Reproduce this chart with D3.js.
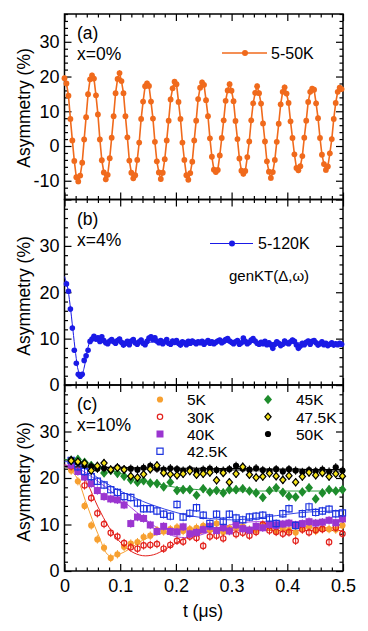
<!DOCTYPE html>
<html><head><meta charset="utf-8">
<script src="https://cdn.jsdelivr.net/npm/d3@7"></script>
<style>
body{margin:0;background:#fff}
text{font-family:"Liberation Sans",Arial,Helvetica,sans-serif;fill:#000}
</style>
</head><body>
<svg id="chart" width="368" height="631"></svg>
<script>
// ---------- DATA ----------
// panel (a) x=0%, 5-50K
const tA = [
0,.0035,.0071,.0106,.0141,.0176,.0212,.0247,.0282,.0318,.0353,.0388,.0423,.0459,
.0494,.0529,.0565,.0600,.0635,.0670,.0706,.0741,.0776,.0812,.0847,.0882,.0917,.0953,
.0988,.1023,.1059,.1094,.1129,.1164,.1200,.1235,.1270,.1306,.1341,.1376,.1411,.1447,
.1482,.1517,.1553,.1588,.1623,.1658,.1694,.1729,.1764,.1800,.1835,.1870,.1905,.1941,
.1976,.2011,.2047,.2082,.2117,.2152,.2188,.2223,.2258,.2294,.2329,.2364,.2399,.2435,
.2470,.2505,.2541,.2576,.2611,.2646,.2682,.2717,.2752,.2788,.2823,.2858,.2893,.2929,
.2964,.2999,.3035,.3070,.3105,.3140,.3176,.3211,.3246,.3282,.3317,.3352,.3387,.3423,
.3458,.3493,.3529,.3564,.3599,.3634,.3670,.3705,.3740,.3776,.3811,.3846,.3881,.3917,
.3952,.3987,.4023,.4058,.4093,.4128,.4164,.4199,.4234,.4270,.4305,.4340,.4375,.4411,
.4446,.4481,.4517,.4552,.4587,.4622,.4658,.4693,.4728,.4764,.4799,.4834,.4869,.4905,
.4940,.4975];
const asymA = [
19.5,18.0,14.5,7.8,1.6,-4.3,-9.0,-10.2,-8.5,-4.8,1.9,8.3,14.9,19.2,
20.3,19.4,14.6,9.1,1.9,-4.1,-7.6,-9.6,-8.3,-3.5,2.4,8.6,15.2,19.3,
21.0,18.7,15.2,8.6,2.5,-4.2,-7.7,-9.3,-8.4,-4.0,1.0,7.8,12.8,17.2,
18.0,17.3,12.8,7.9,1.2,-4.4,-7.6,-9.5,-7.7,-3.8,1.6,7.3,13.4,16.6,
18.5,17.8,12.7,7.8,1.0,-4.0,-8.4,-9.7,-7.8,-4.5,1.6,7.3,13.5,16.8,
18.3,17.6,13.2,8.6,2.2,-3.1,-6.8,-7.5,-6.9,-2.7,2.3,7.4,13.0,16.0,
17.8,15.9,12.9,7.2,2.0,-3.6,-7.1,-8.0,-7.2,-3.2,1.3,7.4,12.3,15.3,
17.2,15.2,12.2,6.5,1.3,-4.4,-7.4,-9.2,-7.5,-4.0,1.2,6.4,12.0,15.6,
16.9,15.1,12.4,7.1,2.3,-2.4,-6.3,-7.0,-5.8,-2.9,2.4,7.3,12.7,15.6,
16.5,16.2,12.3,8.0,2.3,-2.5,-5.2,-6.9,-5.9,-2.1,2.0,7.8,12.4,15.6,
16.8,16.4];
const errA = 0.8;

// panel (b) x=4%, 5-120K (same time bins as panel a)
const tB = tA;
const asymB = [
23.4,21.8,20.2,16.4,12.3,7.5,4.7,2.3,1.9,2.3,5.3,6.3,7.5,9.4,9.9,10.5,9.9,10.2,9.4,10.4,
9.6,9.1,8.9,9.5,9.8,9.3,9.0,9.6,9.9,9.2,8.6,9.0,9.4,8.7,9.5,9.8,9.1,8.8,9.3,9.7,
9.0,8.7,9.4,10.1,10.4,9.8,10.2,9.5,9.1,9.6,8.9,9.3,9.8,9.0,8.8,9.5,9.2,9.6,9.0,8.6,
9.3,9.1,8.7,9.4,9.0,9.5,9.2,8.9,9.3,9.1,9.4,8.8,9.2,9.6,9.0,9.3,8.9,9.2,9.5,9.7,
9.1,9.4,9.8,10.0,9.5,9.2,8.9,9.3,9.6,8.8,9.1,10.1,9.4,8.9,9.2,9.7,10.0,9.5,9.0,8.8,
9.2,8.9,9.4,8.7,9.1,8.6,7.9,8.8,9.3,9.0,8.5,8.8,9.5,9.1,8.9,9.3,9.7,9.4,8.6,7.9,
8.4,9.0,8.7,9.2,9.5,8.8,9.4,9.6,9.1,8.6,8.9,9.3,8.7,9.0,8.5,8.8,9.1,8.6,8.9,8.7,9.0,8.8];
const errB = 0.5;
// genKT fit, panel (b)
const tFitB   = [0,.005,.01,.015,.02,.025,.03,.035,.04,.045,.05,.055,.06,.07,.1,.2,.3,.4,.5];
const fitB    = [23.4,21.4,17.3,12.0,6.8,3.0,1.9,3.6,6.8,9.2,10.0,9.9,9.6,9.3,9.3,9.2,9.2,9.1,9.1];

// panel (c) x=10%
const tC = [.012,.024,.036,.048,.059,.071,.083,.095,.107,.119,.131,.142,.154,.166,.178,.190,.202,.213,.225,.237,.249,
            .261,.273,.285,.296,.308,.320,.332,.344,.356,.368,.380,.392,.403,.415,.427,.439,.451,.463,.475,.487,.499];
const asym5K = [21.6,19.3,14.0,9.8,6.8,5.0,2.8,3.6,5.2,5.9,6.2,7.3,7.6,8.8,8.5,9.0,9.4,8.6,9.0,9.3,9.7,
                8.8,10.2,8.4,9.2,9.4,9.6,8.9,8.8,9.8,9.3,8.6,9.0,8.7,8.3,9.1,9.5,8.6,9.2,9.0,8.9,9.8];
const asym30K = [22.5,21.6,18.4,15.7,12.4,10.1,8.2,7.4,6.0,5.1,4.8,5.5,5.6,5.8,4.8,5.6,6.5,6.3,7.4,7.1,5.4,
                 7.4,7.6,7.0,8.6,7.9,8.2,7.6,8.4,10.0,8.7,8.4,8.0,8.3,6.5,8.9,8.3,8.8,9.0,6.2,9.3,8.0];
const asym40K = [22.8,21.4,20.2,18.8,17.3,16.0,15.5,15.3,14.2,10.2,11.6,11.3,9.9,8.5,9.6,8.5,8.4,9.5,8.0,8.3,8.9,
                 9.6,8.7,9.3,8.6,9.9,9.1,8.8,9.6,9.3,10.0,9.8,10.1,10.3,9.9,10.2,10.6,10.3,10.5,10.9,10.4,11.2];
const asym42K = [23.8,22.4,21.4,20.3,19.3,18.5,17.5,16.9,16.0,15.8,14.6,13.4,13.4,12.9,12.2,11.8,14.3,11.6,12.4,13.6,12.0,
                 10.2,12.2,10.7,12.2,11.4,11.0,11.6,11.8,12.0,11.4,10.2,12.3,13.4,9.8,12.3,13.8,12.6,12.9,13.3,12.3,12.5];
const asym45K = [23.8,24.0,23.4,22.7,22.2,21.1,21.6,21.0,20.4,19.6,19.1,19.4,18.9,18.8,18.1,19.1,17.3,17.5,17.5,16.3,17.7,
                 17.0,17.3,16.8,17.5,17.5,17.7,17.2,16.8,15.8,17.3,17.9,16.9,16.1,15.9,17.0,17.9,15.5,16.8,17.5,17.2,17.5];
const asym47K = [23.7,23.5,23.2,21.6,22.6,23.2,21.8,22.2,21.8,20.4,20.1,20.8,21.9,22.7,21.1,20.8,20.6,20.9,21.5,20.7,20.9,
                 21.2,19.5,21.1,19.1,20.9,22.4,20.7,20.1,20.3,21.0,20.4,19.6,20.5,19.1,20.3,21.2,20.6,21.1,20.3,20.9,20.4];
const asym50K = [23.9,23.3,22.8,22.5,22.0,22.1,21.7,22.3,21.9,22.0,21.8,22.2,22.6,22.0,21.8,22.1,21.9,21.6,21.9,21.5,21.8,
                 22.0,21.7,21.6,21.9,22.6,22.0,21.8,22.1,21.7,21.5,21.9,21.4,21.9,21.6,21.3,21.7,21.5,21.8,21.4,22.3,21.6];
const errC = 0.9;
// fits, panel (c)
const tFit = [0,.02,.04,.06,.08,.10,.12,.14,.16,.18,.20,.22,.24,.26,.28,.30,.32,.34,.36,.38,.40,.42,.44,.46,.48,.50];
const fit5K  = [22.6,20.5,14.3,8.0,3.3,3.7,5.0,6.6,7.6,8.3,8.8,9.1,9.2,9.3,9.3,9.3,9.3,9.3,9.3,9.3,9.3,9.3,9.3,9.3,9.3,9.3];
const fit30K = [22.8,22.0,19.0,13.8,9.4,6.2,4.2,3.3,3.5,4.6,6.0,7.2,8.0,8.5,8.7,8.8,8.8,8.8,8.8,8.7,8.7,8.7,8.7,8.7,8.7,8.7];
const fit40K = [22.8,22.3,21.0,19.3,17.5,15.6,13.6,11.6,9.8,8.3,7.4,7.2,7.6,8.4,9.3,10.0,10.4,10.6,10.6,10.6,10.6,10.6,10.6,10.6,10.6,10.6];
const fit42K = [23.6,23.0,21.8,20.0,18.5,17.2,16.1,15.0,14.1,13.3,12.6,12.0,11.6,11.3,11.1,11.0,11.1,11.3,11.6,11.9,12.2,12.5,12.7,12.8,12.9,12.9];
const fit45K = [24.0,23.8,23.3,22.6,21.8,21.0,20.2,19.5,18.9,18.4,18.0,17.7,17.5,17.4,17.3,17.2,17.2,17.2,17.2,17.2,17.2,17.2,17.2,17.2,17.2,17.2];
const fit47K = [22.3,22.3,22.2,22.2,22.1,22.1,22.0,22.0,21.9,21.9,21.9,21.8,21.8,21.8,21.7,21.7,21.7,21.6,21.6,21.6,21.6,21.5,21.5,21.5,21.5,21.4];
const fit50K = [22.5,22.4,22.4,22.3,22.3,22.3,22.2,22.2,22.2,22.1,22.1,22.1,22.1,22.0,22.0,22.0,22.0,21.9,21.9,21.9,21.9,21.9,21.8,21.8,21.8,21.8];

// ticks / labels
const xTicks = [0,0.1,0.2,0.3,0.4,0.5];
const xTickLabels = ["0","0.1","0.2","0.3","0.4","0.5"];
const yTicksA = [-10,0,10,20,30];
const yLabelsA = ["-10","0","10","20","30"];
const yTicksB = [0,10,20,30,40];
const yLabelsB = ["0","10","20","30",""];
const yTicksC = [0,10,20,30,40];
const yLabelsC = ["0","10","20","30",""];

// ---------- DRAW ----------
const svg = d3.select("#chart");
const L = 64.5, R = 343;
const x = d3.scaleLinear().domain([0,0.5]).range([L,R]);
const xMinor = d3.range(0,0.5001,0.02).filter(v => Math.abs(v*10 - Math.round(v*10)) > 1e-6);

const panels = [
  {top:14, bottom:199.5, y:d3.scaleLinear().domain([-15.4,38]).range([199.5,14]),
   major:yTicksA, labels:yLabelsA, minor:d3.range(-14,38.1,2).filter(v=>v%10!==0),
   tag:"(a)", comp:"x=0%", ylabY:108},
  {top:199.5, bottom:385, y:d3.scaleLinear().domain([0,40]).range([385,199.5]),
   major:yTicksB, labels:yLabelsB, minor:d3.range(2,40,2).filter(v=>v%10!==0),
   tag:"(b)", comp:"x=4%", ylabY:296},
  {top:385, bottom:571, y:d3.scaleLinear().domain([0,40]).range([571,385]),
   major:yTicksC, labels:yLabelsC, minor:d3.range(2,40,2).filter(v=>v%10!==0),
   tag:"(c)", comp:"x=10%", ylabY:482}
];

const MAJ = 7, MIN = 3.5;
function styleAxis(g){ g.select(".domain").remove(); g.selectAll(".tick line").attr("stroke","#000").attr("stroke-width",1.2); }
function styleText(a){ a.selectAll("text").attr("font-size",18).attr("font-family",'"Liberation Sans",Arial,sans-serif').attr("fill","#000"); }

panels.forEach((p,i) => {
  const g = svg.append("g");
  g.append("g").attr("transform",`translate(${L},0)`)
    .call(d3.axisLeft(p.y).tickValues(p.major).tickSize(-MAJ).tickSizeOuter(0).tickPadding(5)
      .tickFormat((d,j)=>p.labels[j]))
    .call(styleAxis).call(styleText);
  g.append("g").attr("transform",`translate(${L},0)`)
    .call(d3.axisLeft(p.y).tickValues(p.minor).tickSize(-MIN).tickSizeOuter(0).tickFormat(""))
    .call(styleAxis);
  g.append("g").attr("transform",`translate(${R},0)`)
    .call(d3.axisRight(p.y).tickValues(p.major).tickSize(-MAJ).tickSizeOuter(0).tickFormat(""))
    .call(styleAxis);
  g.append("g").attr("transform",`translate(${R},0)`)
    .call(d3.axisRight(p.y).tickValues(p.minor).tickSize(-MIN).tickSizeOuter(0).tickFormat(""))
    .call(styleAxis);
  g.append("g").attr("transform",`translate(0,${p.top})`)
    .call(d3.axisTop(x).tickValues(xTicks).tickSize(-MAJ).tickSizeOuter(0).tickFormat(""))
    .call(styleAxis);
  g.append("g").attr("transform",`translate(0,${p.top})`)
    .call(d3.axisTop(x).tickValues(xMinor).tickSize(-MIN).tickSizeOuter(0).tickFormat(""))
    .call(styleAxis);
  g.append("g").attr("transform",`translate(0,${p.bottom})`)
    .call(d3.axisBottom(x).tickValues(xTicks).tickSize(-MAJ).tickSizeOuter(0).tickPadding(8)
      .tickFormat((d,j)=> i===2 ? xTickLabels[j] : ""))
    .call(styleAxis).call(styleText);
  g.append("g").attr("transform",`translate(0,${p.bottom})`)
    .call(d3.axisBottom(x).tickValues(xMinor).tickSize(-MIN).tickSizeOuter(0).tickFormat(""))
    .call(styleAxis);
  g.append("rect").attr("x",L).attr("y",p.top).attr("width",R-L).attr("height",p.bottom-p.top)
    .attr("fill","none").attr("stroke","#000").attr("stroke-width",1.5);
  svg.append("text").attr("transform",`translate(30,${p.ylabY}) rotate(-90)`)
    .attr("text-anchor","middle").attr("font-size",17.5).text("Asymmetry (%)");
  svg.append("text").attr("x",77).attr("y",p.top+25).attr("font-size",17.5).text(p.tag);
  svg.append("text").attr("x",77).attr("y",p.top+46).attr("font-size",17.5).text(p.comp);
});

svg.append("text").attr("x",203).attr("y",617).attr("text-anchor","middle").attr("font-size",17.5).text("t (μs)");

// ---- panel (a)
const pa = panels[0];
const colA = "#f06a1c";
const dataA = tA.map((t,i)=>({t, v:asymA[i]}));
const ga = svg.append("g");
ga.append("path").datum(dataA).attr("fill","none").attr("stroke",colA).attr("stroke-width",1.6)
  .attr("d", d3.line().x(d=>x(d.t)).y(d=>pa.y(d.v)));
ga.selectAll("line.err").data(dataA).join("line").attr("stroke",colA).attr("stroke-width",1)
  .attr("x1",d=>x(d.t)).attr("x2",d=>x(d.t)).attr("y1",d=>pa.y(d.v-errA)).attr("y2",d=>pa.y(d.v+errA));
ga.selectAll("circle").data(dataA).join("circle").attr("cx",d=>x(d.t)).attr("cy",d=>pa.y(d.v))
  .attr("r",2.9).attr("fill",colA);
ga.append("line").attr("x1",222).attr("x2",267).attr("y1",53).attr("y2",53).attr("stroke",colA).attr("stroke-width",1.6);
ga.append("circle").attr("cx",245).attr("cy",53).attr("r",3).attr("fill",colA);
svg.append("text").attr("x",271).attr("y",59).attr("font-size",16).text("5-50K");

// ---- panel (b)
const pb = panels[1];
const colB = "#1a1ae6";
const dataB = tB.map((t,i)=>({t, v:asymB[i]})).filter(d=>d.t>0);
const gb = svg.append("g");
gb.append("path").datum(tFitB.map((t,i)=>({t,v:fitB[i]}))).attr("fill","none").attr("stroke",colB).attr("stroke-width",1)
  .attr("d", d3.line().curve(d3.curveCatmullRom).x(d=>x(d.t)).y(d=>pb.y(d.v)));
gb.selectAll("line.err").data(dataB).join("line").attr("stroke",colB).attr("stroke-width",1)
  .attr("x1",d=>x(d.t)).attr("x2",d=>x(d.t)).attr("y1",d=>pb.y(d.v-errB)).attr("y2",d=>pb.y(d.v+errB));
gb.selectAll("circle").data(dataB).join("circle").attr("cx",d=>x(d.t)).attr("cy",d=>pb.y(d.v))
  .attr("r",2.8).attr("fill",colB);
gb.append("line").attr("x1",210).attr("x2",253).attr("y1",243.5).attr("y2",243.5).attr("stroke",colB).attr("stroke-width",1);
gb.append("circle").attr("cx",232).attr("cy",243.5).attr("r",3).attr("fill",colB);
svg.append("text").attr("x",258).attr("y",249).attr("font-size",16).text("5-120K");
svg.append("text").attr("x",229).attr("y",281).attr("font-size",15).text("genKT(Δ,ω)");

// ---- panel (c)
const pc = panels[2];
const seriesC = [
  {name:"5K",    v:asym5K,  fit:fit5K,  shape:"circle",  fill:"#f7a030", stroke:"none",    fitCol:"#f7a030", fitW:1, col:0,row:0},
  {name:"30K",   v:asym30K, fit:fit30K, shape:"ocircle", fill:"none",    stroke:"#e3201b", fitCol:"#e3201b", fitW:1, col:0,row:1},
  {name:"40K",   v:asym40K, fit:fit40K, shape:"square",  fill:"#9b35d0", stroke:"none",    fitCol:"#a845e0", fitW:1, col:0,row:2},
  {name:"42.5K", v:asym42K, fit:fit42K, shape:"osquare", fill:"none",    stroke:"#1f35e0", fitCol:"#3545e6", fitW:1, col:0,row:3},
  {name:"45K",   v:asym45K, fit:fit45K, shape:"diamond", fill:"#1e8c2c", stroke:"none",    fitCol:"#30a040", fitW:1, col:1,row:0},
  {name:"47.5K", v:asym47K, fit:fit47K, shape:"ydiamond",fill:"#f5e31a", stroke:"#000",    fitCol:"#888888", fitW:2, col:1,row:1},
  {name:"50K",   v:asym50K, fit:fit50K, shape:"circle",  fill:"#000",    stroke:"none",    fitCol:"#000",    fitW:1.2, col:1,row:2}
];
function markerPath(shape){
  if(shape==="circle") return d3.symbol(d3.symbolCircle, Math.PI*3.1*3.1)();
  if(shape==="ocircle") return d3.symbol(d3.symbolCircle, Math.PI*2.7*2.7)();
  if(shape==="square") return d3.symbol(d3.symbolSquare, 7*7)();
  if(shape==="osquare") return d3.symbol(d3.symbolSquare, 6.2*6.2)();
  if(shape==="diamond") return "M0,-4.8L4,0L0,4.8L-4,0Z";
  return "M0,-3.6L3.1,0L0,3.6L-3.1,0Z";
}
const gc = svg.append("g");
seriesC.forEach(s => {
  gc.append("path").datum(tFit.map((t,i)=>({t,v:s.fit[i]}))).attr("fill","none")
    .attr("stroke",s.fitCol).attr("stroke-width",s.fitW)
    .attr("d", d3.line().curve(d3.curveCatmullRom).x(d=>x(d.t)).y(d=>pc.y(d.v)));
});
const drawOrder = ["5K","30K","40K","42.5K","45K","50K","47.5K"];
drawOrder.forEach(n => {
  const s = seriesC.find(q=>q.name===n);
  const dat = tC.map((t,i)=>({t,v:s.v[i]}));
  const col = s.shape==="ydiamond" ? "#000" : (s.stroke!=="none" ? s.stroke : s.fill);
  const g = gc.append("g");
  g.selectAll("line").data(dat).join("line").attr("stroke",col).attr("stroke-width",1)
    .attr("x1",d=>x(d.t)).attr("x2",d=>x(d.t)).attr("y1",d=>pc.y(d.v-errC)).attr("y2",d=>pc.y(d.v+errC));
  g.selectAll("path").data(dat).join("path").attr("d",markerPath(s.shape))
    .attr("transform",d=>`translate(${x(d.t)},${pc.y(d.v)})`)
    .attr("fill", s.fill==="none" ? "#fff" : s.fill)
    .attr("fill-opacity", s.fill==="none" ? 0 : 1)
    .attr("stroke", s.stroke).attr("stroke-width", s.stroke==="none"?0:1.2);
});
const legX = [160, 268], legTX = [187, 296], legY = [399.5, 416.8, 434, 451.3];
seriesC.forEach(s => {
  gc.append("path").attr("d",markerPath(s.shape))
    .attr("transform",`translate(${legX[s.col]},${legY[s.row]})`)
    .attr("fill", s.fill==="none" ? "#fff" : s.fill).attr("fill-opacity", s.fill==="none"?0:1)
    .attr("stroke", s.stroke).attr("stroke-width", s.stroke==="none"?0:1.2);
  svg.append("text").attr("x",legTX[s.col]).attr("y",legY[s.row]+5.7).attr("font-size",15.5).text(s.name);
});
</script>
</body></html>
